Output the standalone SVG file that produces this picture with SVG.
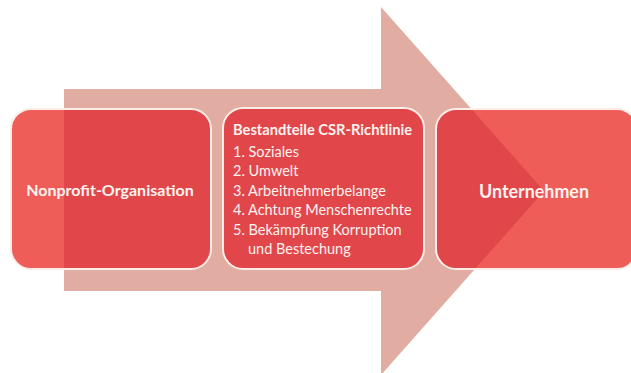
<svg xmlns="http://www.w3.org/2000/svg" width="631" height="373" viewBox="0 0 631 373">
<style>
.box{fill:#EE5D58}
.over{fill:#E0464A}
.edge{fill:none;stroke:#FBEDE8;stroke-width:2}
.t{font-family:Lato,"Open Sans",sans-serif;fill:#FDF3EF}
.b{font-weight:bold;font-size:16px}
.l{font-size:14.5px}
</style>
<defs>
<path id="arrowShape" d="M64,89 H381 V7 L544,191 L381,375 V291 H64 Z"/>
<clipPath id="c1"><rect x="11" y="109" width="200" height="160" rx="20"/></clipPath>
<clipPath id="c3"><rect x="436" y="109" width="201" height="160" rx="20"/></clipPath>
</defs>
<g id="connectors">
<use href="#arrowShape" fill="#E1ACA1"/>
</g>
<g id="node-nonprofit">
<rect class="box" x="11" y="109" width="200" height="160" rx="20"/>
<use href="#arrowShape" class="over" clip-path="url(#c1)"/>
<rect class="edge" x="11" y="109" width="200" height="160" rx="20"/>
<text class="t b" x="110" y="196" text-anchor="middle">Nonprofit-Organisation</text>
</g>
<g id="node-csr">
<rect class="over" x="223" y="108" width="201" height="161" rx="20"/>
<rect class="edge" x="223" y="108" width="201" height="161" rx="20"/>
<text class="t b" x="233" y="135" style="font-size:15px" textLength="179" lengthAdjust="spacingAndGlyphs">Bestandteile CSR-Richtlinie</text>
<text class="t l" x="233" y="157">1. Soziales</text>
<text class="t l" x="233" y="176">2. Umwelt</text>
<text class="t l" x="233" y="196">3. Arbeitnehmerbelange</text>
<text class="t l" x="233" y="215">4. Achtung Menschenrechte</text>
<text class="t l" x="233" y="235">5. Bekämpfung Korruption</text>
<text class="t l" x="248" y="254">und Bestechung</text>
</g>
<g id="node-unternehmen">
<rect class="box" x="436" y="109" width="201" height="160" rx="20"/>
<use href="#arrowShape" class="over" clip-path="url(#c3)"/>
<rect class="edge" x="436" y="109" width="201" height="160" rx="20"/>
<text class="t b" x="534" y="198" text-anchor="middle" style="font-size:18px" textLength="110" lengthAdjust="spacingAndGlyphs">Unternehmen</text>
</g>
</svg>
